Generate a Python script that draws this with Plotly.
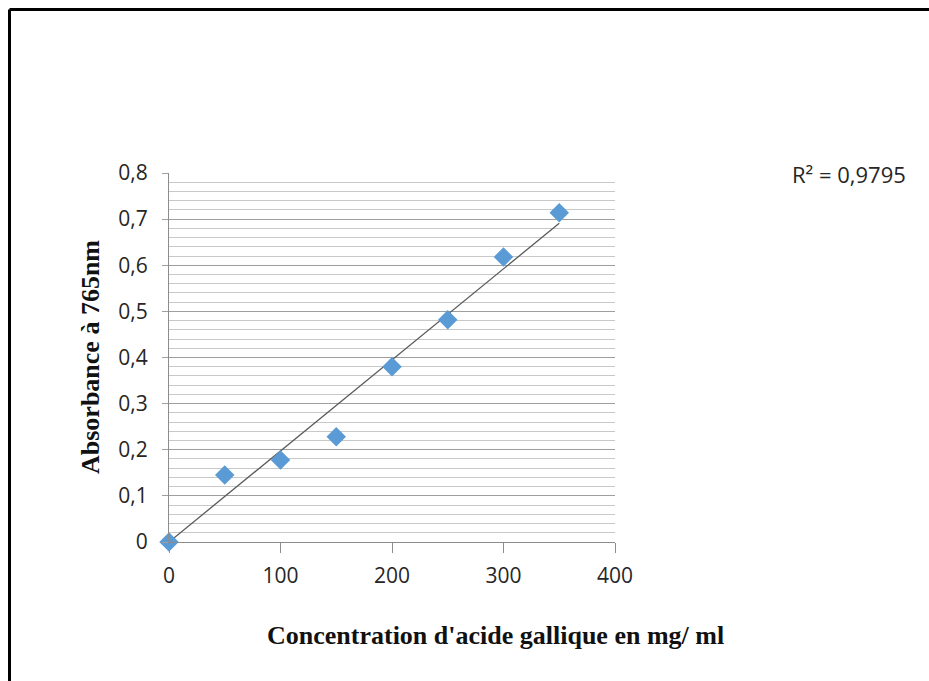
import numpy as np
import plotly.graph_objects as go

# Gallic acid calibration data
concentration = [0, 50, 100, 150, 200, 250, 300, 350]
absorbance = [0.0, 0.145, 0.178, 0.228, 0.380, 0.482, 0.618, 0.714]
x_ticks = [0, 100, 200, 300, 400]
y_ticks = [0, 0.1, 0.2, 0.3, 0.4, 0.5, 0.6, 0.7, 0.8]
y_tick_text = ["0", "0,1", "0,2", "0,3", "0,4", "0,5", "0,6", "0,7", "0,8"]
r2_label = "R² = 0,9795"

# Linear trendline forced through the origin
xs = np.array(concentration, dtype=float)
ys = np.array(absorbance, dtype=float)
slope = float((xs * ys).sum() / (xs * xs).sum())
trend_x = [0, max(concentration)]
trend_y = [slope * v for v in trend_x]

W, H = 929, 681
L, R, T, B = 169, 314, 173, 139
pw, ph = W - L - R, H - T - B

def px_x(p):
    return (p - L) / pw

def px_y(p):
    return (H - B - p) / ph

fig = go.Figure()
fig.add_trace(go.Scatter(
    x=trend_x, y=trend_y, mode="lines",
    line=dict(color="#5a5a5a", width=1.3),
    hoverinfo="skip", showlegend=False, cliponaxis=False,
))
fig.add_trace(go.Scatter(
    x=concentration, y=absorbance, mode="markers",
    marker=dict(symbol="diamond", size=15, color="#5B9BD5",
                line=dict(width=0)),
    showlegend=False, cliponaxis=False,
))

tick_font = dict(family="'Open Sans', sans-serif", size=21, color="#262626")
title_font = dict(family="'Liberation Serif', 'Times New Roman', serif", size=26, color="#111111")

fig.update_layout(
    width=W, height=H,
    margin=dict(l=L, r=R, t=T, b=B, autoexpand=False),
    paper_bgcolor="white", plot_bgcolor="white",
    xaxis=dict(
        range=[0, 400], tickvals=x_ticks, ticks="outside", ticklen=10,
        tickcolor="#8c8c8c", showgrid=False, zeroline=False,
        showline=True, linecolor="#8c8c8c", linewidth=1,
        tickfont=tick_font, ticklabelstandoff=5,
    ),
    yaxis=dict(
        range=[0, 0.8], tickvals=y_ticks, ticktext=y_tick_text,
        ticks="outside", ticklen=6, tickcolor="#a0a0a0",
        showgrid=True, gridcolor="#9e9e9e", gridwidth=1,
        zeroline=False, showline=True, linecolor="#8c8c8c", linewidth=1,
        tickfont=tick_font, ticklabelstandoff=10,
        minor=dict(dtick=0.02, showgrid=True, gridcolor="#c8c8c8", gridwidth=1),
    ),
    annotations=[
        dict(text=r2_label, xref="paper", yref="paper",
             x=px_x(849), y=px_y(174), showarrow=False,
             xanchor="center", yanchor="middle",
             font=dict(family="'Open Sans', sans-serif", size=22, color="#262626")),
        dict(text="<b>Concentration d'acide gallique en mg/ ml</b>",
             xref="paper", yref="paper", x=px_x(495), y=px_y(635),
             showarrow=False, xanchor="center", yanchor="middle",
             font=title_font),
        dict(text="<b>Absorbance à 765nm</b>", textangle=-90,
             xref="paper", yref="paper", x=px_x(90), y=px_y(357),
             showarrow=False, xanchor="center", yanchor="middle",
             font=title_font),
    ],
    shapes=[
        dict(type="line", xref="paper", yref="paper",
             x0=px_x(9.5), x1=px_x(W + 5), y0=px_y(9.5), y1=px_y(9.5),
             line=dict(color="black", width=3)),
        dict(type="line", xref="paper", yref="paper",
             x0=px_x(9.5), x1=px_x(9.5), y0=px_y(9.5), y1=px_y(H + 5),
             line=dict(color="black", width=3)),
    ],
)

fig.write_html("out.html")
